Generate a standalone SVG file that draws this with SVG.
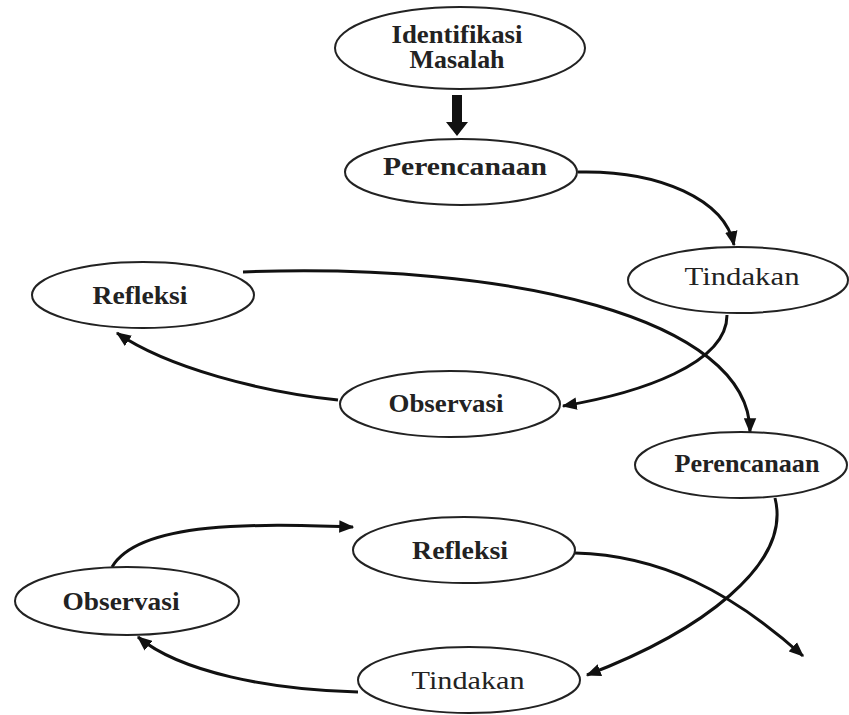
<svg xmlns="http://www.w3.org/2000/svg" width="849" height="715" viewBox="0 0 849 715">
<defs>
<marker id="ah" viewBox="0 0 12 10" refX="11" refY="5" markerWidth="15" markerHeight="13" markerUnits="userSpaceOnUse" orient="auto">
<path d="M0,0 L12,5 L0,10 Z" fill="#111"/>
</marker>
<style>
.node ellipse{fill:#fff;stroke:#222;stroke-width:2}
.node text{font-family:"Liberation Serif","Times New Roman",serif;font-size:25px;fill:#222;text-anchor:middle}
.b{font-weight:bold}
.t{fill:#333}
.conn path{fill:none;stroke:#111;stroke-width:3;marker-end:url(#ah)}
</style>
</defs>
<rect width="849" height="715" fill="#fff"/>
<g class="conn" id="connectors">
<path d="M578,172 C660,170 725,200 734,245"/>
<path d="M727,315 C727,364 640,393 563,406"/>
<path d="M338,400 C262,392 168,368 117,333"/>
<path d="M243,272 C510,262 750,318 750,432"/>
<path d="M775,498 C792,565 700,632 587,675"/>
<path d="M575,553 C660,555 732,592 803,656"/>
<path d="M358,692 C270,690 180,672 138,637"/>
<path d="M112,567 C140,520 260,524 353,527"/>
<polygon points="452,95 462,95 462,122 468,122 457,136 446,122 452,122" fill="#111"/>
</g>
<g class="node" id="identifikasi">
<ellipse cx="460" cy="48" rx="125" ry="41"/>
<text class="b" x="457" y="43" textLength="131" lengthAdjust="spacingAndGlyphs">Identifikasi</text>
<text class="b" x="457" y="68" textLength="95" lengthAdjust="spacingAndGlyphs">Masalah</text>
</g>
<g class="node" id="perencanaan1">
<ellipse cx="461" cy="172" rx="116" ry="33"/>
<text class="b" x="465" y="175" textLength="164" lengthAdjust="spacingAndGlyphs">Perencanaan</text>
</g>
<g class="node" id="tindakan1">
<ellipse cx="738" cy="280" rx="110" ry="33"/>
<text class="t" x="742" y="285" textLength="115" lengthAdjust="spacingAndGlyphs">Tindakan</text>
</g>
<g class="node" id="refleksi1">
<ellipse cx="143" cy="295" rx="111" ry="33"/>
<text class="b" x="140" y="304" textLength="95" lengthAdjust="spacingAndGlyphs">Refleksi</text>
</g>
<g class="node" id="observasi1">
<ellipse cx="450" cy="404" rx="110" ry="33"/>
<text class="b" x="446" y="412" textLength="115" lengthAdjust="spacingAndGlyphs">Observasi</text>
</g>
<g class="node" id="perencanaan2">
<ellipse cx="741" cy="465" rx="106" ry="33"/>
<text class="b" x="747" y="472" textLength="145" lengthAdjust="spacingAndGlyphs">Perencanaan</text>
</g>
<g class="node" id="refleksi2">
<ellipse cx="464" cy="550" rx="111" ry="33"/>
<text class="b" x="460" y="559" textLength="96" lengthAdjust="spacingAndGlyphs">Refleksi</text>
</g>
<g class="node" id="observasi2">
<ellipse cx="127" cy="601" rx="112" ry="34"/>
<text class="b" x="121" y="610" textLength="117" lengthAdjust="spacingAndGlyphs">Observasi</text>
</g>
<g class="node" id="tindakan2">
<ellipse cx="469" cy="680" rx="111" ry="33"/>
<text class="t" x="468" y="689" textLength="113" lengthAdjust="spacingAndGlyphs">Tindakan</text>
</g>
</svg>
